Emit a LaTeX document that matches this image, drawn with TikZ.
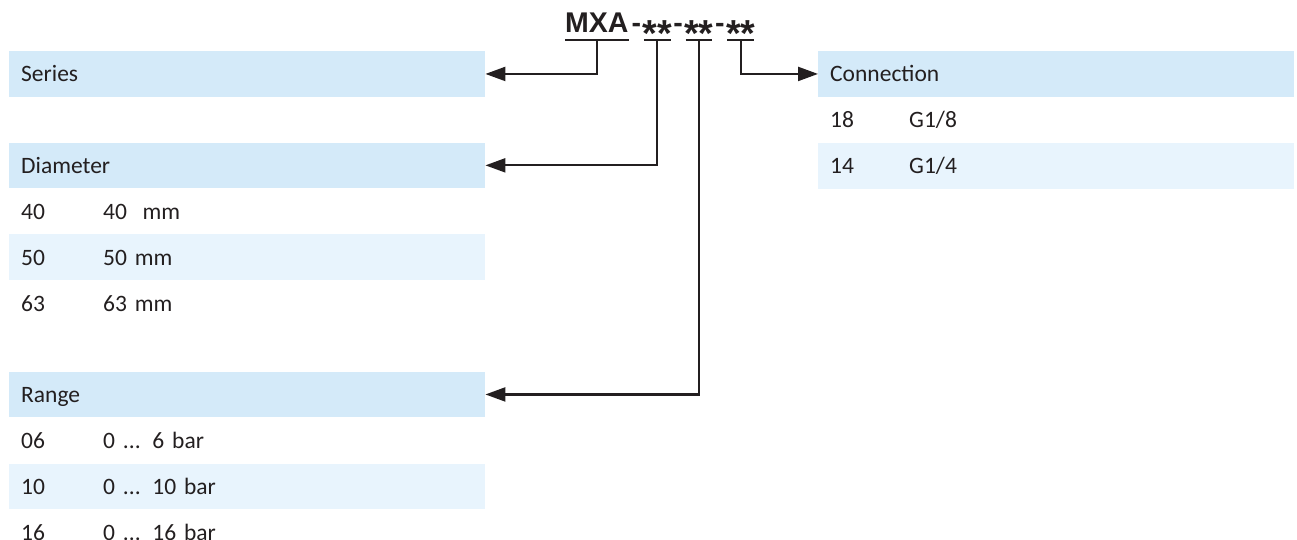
\documentclass[tikz,border=0pt]{standalone}
\usepackage{fontspec}
\usepackage{graphicx}
\setmainfont{Carlito}
\newfontfamily\codefont{Liberation Sans}
\usetikzlibrary{positioning, arrows.meta}
\definecolor{headblue}{RGB}{212,234,249}
\definecolor{rowblue}{RGB}{232,244,253}
\definecolor{inkgray}{RGB}{35,31,32}
\newcommand\codestar{\raisebox{-13.5pt}{\scalebox{1.32}{*}}}
\tikzset{
  band/.style={anchor=north west, minimum width=476, minimum height=45.5, text width=452, align=left,
    inner xsep=12, inner ysep=0, text height=18pt, text depth=2pt, text=inkgray, font=\fontsize{23.5}{26}\selectfont},
  head/.style={band, fill=headblue},
  row/.style={band},
  altrow/.style={band, fill=rowblue},
  code/.style={inner sep=0, text=inkgray, font=\codefont\bfseries\fontsize{28.5}{30}\selectfont},
  slot/.style={code, inner xsep=-1.5},
  hyph/.style={code, inner xsep=2.6},
  uline/.style={draw=inkgray, line width=2.2pt},
  flow/.style={-{Triangle[length=20pt, width=14pt]}, draw=inkgray, line width=2.2pt},
  x=1pt, y=-1pt
}
\begin{document}
\begin{tikzpicture}
    \useasboundingbox (0,0) rectangle (1297,540);
    % order code
    \node[code, anchor=base west] (mxa) at (565,33) {MXA};
    \node[hyph, base right=0pt of mxa] (hyph1) {-};
    \node[slot, base right=0pt of hyph1] (dia) {\codestar\codestar};
    \node[hyph, base right=0pt of dia] (hyph2) {-};
    \node[slot, base right=0pt of hyph2] (rng) {\codestar\codestar};
    \node[hyph, base right=0pt of rng] (hyph3) {-};
    \node[slot, base right=0pt of hyph3] (con) {\codestar\codestar};
    \foreach \n in {mxa, dia, rng, con}
      \draw[uline] ([yshift=-7pt]\n.base west) -- ([yshift=-7pt]\n.base east);
    % left tables
    \node[head] (series) at (9,51) {Series};
    \node[head, below=45.5pt of series] (diameter) {Diameter};
    \node[row, below=0pt of diameter] (d40) {\makebox[82pt][l]{40}40\ \ mm};
    \node[altrow, below=0pt of d40] (d50) {\makebox[82pt][l]{50}50 mm};
    \node[row, below=0pt of d50] (d63) {\makebox[82pt][l]{63}63 mm};
    \node[head, below=45.5pt of d63] (range) {Range};
    \node[row, below=0pt of range] (r06) {\makebox[82pt][l]{06}0 ... 6 bar};
    \node[altrow, below=0pt of r06] (r10) {\makebox[82pt][l]{10}0 ... 10 bar};
    \node[row, below=0pt of r10] (r16) {\makebox[82pt][l]{16}0 ... 16 bar};
    % right table
    \node[head] (connection) at (818,51) {Connection};
    \node[row, below=0pt of connection] (c18) {\makebox[79pt][l]{18}G1/8};
    \node[altrow, below=0pt of c18] (c14) {\makebox[79pt][l]{14}G1/4};
    % connectors
    \draw[flow] ([yshift=-7pt]mxa.base) |- (series.east);
    \draw[flow] ([yshift=-7pt]dia.base) |- (diameter.east);
    \draw[flow] ([yshift=-7pt]rng.base) |- (range.east);
    \draw[flow] ([yshift=-7pt]con.base) |- (connection.west);
\end{tikzpicture}
\end{document}
